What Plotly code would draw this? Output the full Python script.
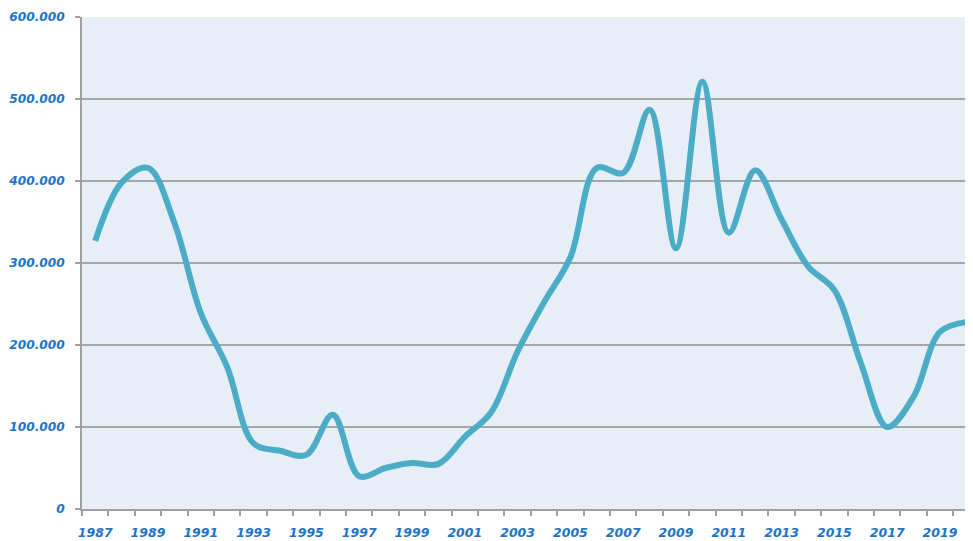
import plotly.graph_objects as go

years = list(range(1987, 2021))
values = [327000, 398000, 416000, 349000, 239000, 173000, 80000, 71000, 66000, 115000,
          40000, 50000, 56000, 55000, 88000, 118000, 192000, 252000, 307000, 416000,
          410000, 487000, 318000, 521000, 337000, 413000, 353000, 296000, 267000, 178000,
          100000, 137000, 216000, 228000]
tick_years = list(range(1987, 2020, 2))
tick_labels = [str(y) for y in tick_years]
y_ticks = [0, 100000, 200000, 300000, 400000, 500000, 600000]

x_font = dict(family="DejaVu Sans", size=12.5, color="#1C74C8", weight="bold", style="italic")
y_font = dict(family="DejaVu Sans", size=12.2, color="#1C74C8", weight="bold", style="italic")

fig = go.Figure()
fig.add_trace(go.Scatter(
    x=years, y=values, mode="lines",
    line=dict(color="#4BACC6", width=6, shape="spline", smoothing=1.0),
    hoverinfo="skip", showlegend=False,
))

# page body has an 8px default margin, so the figure is shifted by 8px
fig.update_layout(
    width=965, height=533,
    margin=dict(l=74, r=0, t=9, b=32),
    paper_bgcolor="white",
    plot_bgcolor="#E8EEF8",
    separators=",.",
    showlegend=False,
)
fig.update_xaxes(
    range=[1986.5, 2020.25],
    tickvals=tick_years, ticktext=tick_labels,
    ticks="", tickfont=x_font, ticklabelstandoff=11,
    showgrid=False, zeroline=False, automargin=False,
    showline=True, linecolor="#A0A0A0", linewidth=1.5,
    minor=dict(ticks="outside", tick0=1986.5, dtick=1, ticklen=5, tickcolor="#A0A0A0", tickwidth=1.5, showgrid=False),
)
fig.update_yaxes(
    range=[0, 600000],
    tickvals=y_ticks, tickformat=",.0f",
    ticks="outside", ticklen=5, tickcolor="#A0A0A0", tickwidth=1.5,
    tickfont=y_font, ticklabelstandoff=8, automargin=False,
    showgrid=True, gridcolor="#A6A6A6", gridwidth=1.5,
    zeroline=False,
    showline=True, linecolor="#A0A0A0", linewidth=1.5,
)

fig.write_html("out.html")
